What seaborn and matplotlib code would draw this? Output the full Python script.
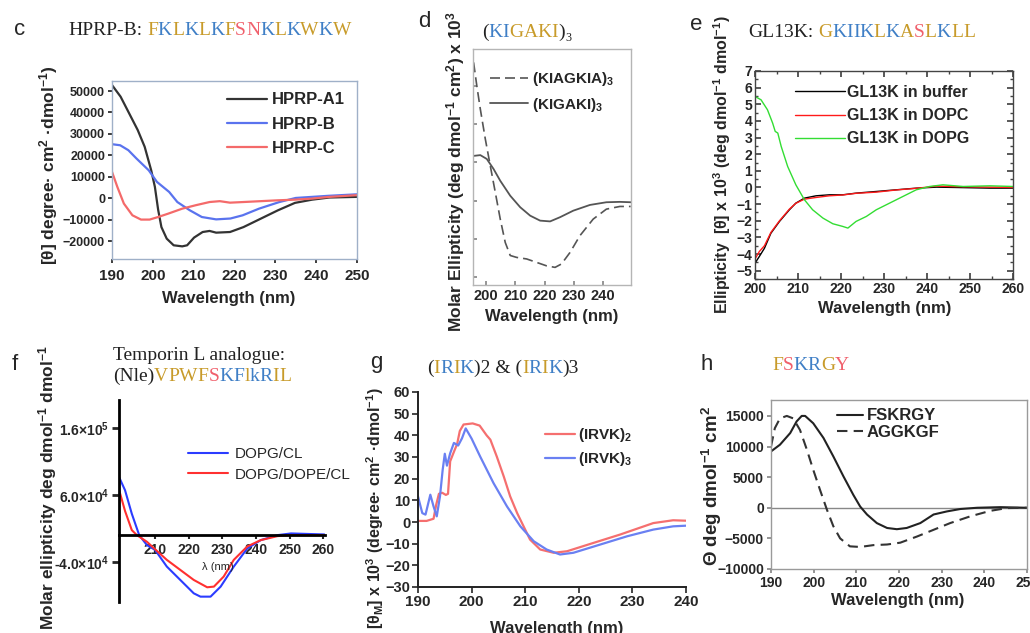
import matplotlib
matplotlib.use('Agg')
import matplotlib.pyplot as plt
from matplotlib.ticker import MultipleLocator
import seaborn as sns

W, H = 1030, 633

# colours used for residues in the sequence titles
GOLD, BLUE, PINK, INK = '#c89b2a', '#3f7fc6', '#f0606c', '#222222'
RES_COL = {'g': GOLD, 'b': BLUE, 'p': PINK, 'k': INK}

# ---- panel c: HPRP peptides
c_a1_wl = [190, 192.1, 194.2, 196.3, 198, 199.6, 200.5, 201.3, 202.1, 203.4, 205.1, 207.2, 208.4,
           210.1, 212.2, 213.9, 215.5, 218.9, 222.2, 226.4, 230.6, 234.8, 239, 243.2, 250]
c_a1 = [52800, 47400, 39600, 31800, 24000, 13000, 5300, -5400, -13500, -18900, -22000, -22500, -22000,
        -18400, -15800, -15300, -16100, -15800, -13500, -9600, -5700, -2200, -700, 300, 600]
c_b_wl = [190, 192, 194, 196, 199, 201, 204, 206, 209, 212, 215.5, 219, 222, 226, 231, 235, 239, 243, 250]
c_b = [25200, 24700, 22400, 18500, 13000, 7600, 2900, -1800, -5600, -8800, -9900, -9500, -8000, -4900,
       -1800, 100, 600, 1100, 1800]
c_c_wl = [190, 191.3, 192.9, 195, 197.1, 199.2, 201.3, 203.8, 207.2, 210.5, 213.9, 216.4, 218.9, 222.2,
          226.4, 230.6, 234.8, 239, 243.2, 250]
c_c = [12300, 5300, -2500, -8000, -10000, -10000, -8800, -7200, -4900, -3300, -1800, -1400, -2100, -1800,
       -1400, -1000, -700, -200, 600, 1400]
c_seq, c_code = 'FKLKLKFSNKLKWKW', 'gbgbgbgppbgbgbg'

# ---- panel d: (KIGAKI)3 vs (KIAGKIA)3, x 10^3
d_kiagkia_wl = [195.8, 196.9, 198.1, 199.8, 201.5, 203.2, 204.9, 206.6, 208.3, 210.5, 213.9, 217.3, 220.7,
                223.6, 225.8, 228.7, 232.1, 236.6, 241.1, 245.7, 249.4]
d_kiagkia = [36.1, 30, 23.9, 16.1, 9.1, 2.2, -4.8, -10.9, -14.3, -14.8, -15.2, -16.1, -17, -17.4, -16.5,
             -13.5, -9.1, -4.8, -2.2, -1.5, -1.5]
d_kigaki_wl = [195.8, 198.1, 200.3, 202.6, 204.9, 208.3, 211.7, 215.1, 218.5, 221.9, 225.3, 229.8, 235.5,
               241.1, 245.7, 249.4]
d_kigaki = [11.7, 11.9, 10.9, 8.3, 5.2, 1.3, -1.7, -3.9, -5.2, -5.4, -4.3, -2.6, -1.1, -0.4, -0.3, -0.4]

# ---- panel e: GL13K
e_wl = [200, 201, 202.2, 203.7, 205.7, 208, 209.5, 211.5, 214.2, 217.3, 220.4, 223.5, 228.2, 232.8, 237.5,
        242.2, 246.8, 254.6, 260]
e_buffer = [-4.55, -4.15, -3.65, -2.75, -2.04, -1.34, -0.94, -0.64, -0.5, -0.44, -0.44, -0.34, -0.24, -0.14,
            -0.04, 0.02, 0, -0.04, -0.04]
e_dopc = [-4.3, -3.85, -3.5, -2.7, -2.0, -1.3, -0.95, -0.7, -0.6, -0.5, -0.45, -0.35, -0.28, -0.15, -0.05,
          0.08, 0.05, 0.02, 0.0]
e_dopg_wl = [200, 201.4, 202.9, 204.1, 204.7, 205.3, 206.1, 207.6, 209.5, 211.5, 213.4, 215.8, 218.1, 220.4,
             221.6, 223.5, 225.9, 228.2, 231.3, 234.4, 237.5, 240.6, 243.7, 248.4, 254.6, 260]
e_dopg = [5.47, 5.27, 4.67, 3.87, 3.37, 3.27, 2.46, 1.26, 0.16, -0.74, -1.34, -1.84, -2.18, -2.34, -2.44,
          -2.04, -1.74, -1.34, -0.94, -0.54, -0.14, 0.06, 0.16, 0.06, 0.1, 0.06]
e_seq, e_code = 'GKIIKLKASLKLL', 'gbbbbgbgpgbgg'

# ---- panel f: Temporin L analogue
f_cl_wl = [199.3, 201.1, 203.1, 205.3, 207.6, 210, 213.5, 217.5, 221.5, 223.5, 226.5, 229.5, 233.4, 237.4,
           241.4, 246.4, 250.4, 260.3]
f_cl = [87000, 67000, 32000, 0, -15000, -22000, -47000, -67000, -87000, -92000, -92000, -77000, -47000,
        -20000, -7500, 0, 2500, 1000]
f_dope_wl = [199.3, 201.1, 203.1, 204.6, 207.6, 210, 213.5, 217.5, 221.5, 225.5, 227.5, 230.4, 233.4, 237.4,
             241.4, 246.4, 250.4, 260.3]
f_dope = [68000, 36000, 7500, 0, -10000, -21000, -37000, -52000, -67000, -78000, -77000, -62000, -37000,
          -17000, -7500, -1500, 0, 0]
f_yticks = [-4.0e4, 6.0e4, 1.6e5]
f_ylabels = ['-4.0×10$^4$', '6.0×10$^4$', '1.6×10$^5$']
f_seq, f_code = 'VPWFSKFlkRIL', 'ggggpbbgbbgg'

# ---- panel g: (IRVK)n
g_irvk2_wl = [190, 191.6, 192.9, 193.4, 193.9, 194.5, 195.2, 195.6, 196, 196.8, 197.3, 197.8, 198.5, 200.2,
              201.5, 202.8, 203.5, 204.7, 206, 207.2, 208.5, 209.7, 210.9, 212.8, 215.3, 217.8, 222.8,
              227.7, 233.9, 237.6, 240]
g_irvk2 = [0.5, 0.5, 1.5, 8, 13, 13.5, 12.5, 13, 28, 33, 36, 42, 45, 45.5, 44.5, 40, 38, 30.2, 21, 11.8, 4.1,
           -2, -8.1, -12.7, -14.2, -13.5, -9.6, -5.8, -0.5, 0.8, 0.6]
g_irvk3_wl = [190, 190.8, 191.4, 192.3, 192.9, 193.5, 194.1, 194.6, 195.0, 195.4, 196.0, 196.7, 197.5, 198.2,
              198.9, 200.0, 201.6, 204.1, 206.6, 209.1, 211.6, 214, 216.5, 219, 224, 229, 233.9, 237.6, 240]
g_irvk3 = [11.8, 4.1, 3.4, 12.6, 7.2, 2.6, 11.8, 24, 31.5, 26, 31.7, 36.5, 35.3, 38.6, 43.2, 38.5, 30.2,
           17.9, 7.2, -2, -8.9, -12.7, -15, -14.2, -10.4, -6.6, -3.5, -2, -1.7]

# ---- panel h: FSKRGY vs AGGKGF
h_fsk_wl = [190, 192.1, 194.5, 196, 197.2, 198, 199.9, 202.3, 204.6, 207, 209.3, 210.9, 212.5, 214.8, 217.2,
            219.5, 221.8, 225, 228.1, 231.2, 234.4, 238.3, 243.8, 250]
h_fsk = [9200, 10300, 12200, 14100, 15000, 15000, 13800, 11400, 8400, 5100, 2100, 200, -1100, -2500, -3300,
         -3500, -3300, -2500, -1100, -600, -200, 0, 100, 0]
h_agg_wl = [190, 190.9, 192.1, 193.7, 195.2, 196.8, 198.4, 199.9, 201.5, 203.1, 204.6, 206.2, 208.5, 210.9,
            214, 217.2, 220.3, 224.2, 228.1, 232, 236.7, 241.4, 245.3, 250]
h_agg = [10000, 13000, 14600, 15000, 14600, 12700, 9500, 6200, 2900, -300, -3000, -5000, -6300, -6400,
         -6100, -6000, -5700, -4700, -3600, -2500, -1400, -500, -50, 0]
h_seq, h_code = 'FSKRGY', 'gpbbgp'


sns.set_theme(style='ticks')
plt.rcParams['font.family'] = ['Liberation Sans', 'DejaVu Sans']
plt.rcParams['mathtext.default'] = 'regular'

fig = plt.figure(figsize=(W / 100, H / 100), dpi=100)
fig.canvas.draw()
renderer = fig.canvas.get_renderer()


def px_box(l, t, r, b):
    return [l / W, 1 - b / H, (r - l) / W, (b - t) / H]


def ftext(x, y, s, **kw):
    return fig.text(x / W, 1 - y / H, s, **kw)


def bold_ticks(ax, size):
    ax.tick_params(labelsize=size)
    for lab in ax.get_xticklabels() + ax.get_yticklabels():
        lab.set_fontweight('bold')


def seq_title(x, y, parts, size=14):
    """Write a serif title piece by piece so each residue keeps its colour."""
    for txt, col in parts:
        if txt == ' ':
            x += size * 100 / 72 * 0.25
            continue
        sub = txt.startswith('_')
        s = txt[1:] if sub else txt
        t = ftext(x, y + (4 if sub else 0), s, color=col, fontsize=size * 0.62 if sub else size,
                  family='Liberation Serif', va='baseline')
        x += t.get_window_extent(renderer).width


def residues(seq, code):
    return [(a, RES_COL[c]) for a, c in zip(seq, code)]


def put_legend(ax, x, y_first, size, row, hlen, pad, weight='bold'):
    fpx = size * 100 / 72
    ax.legend(loc='upper left', bbox_to_anchor=(x / W, 1 - (y_first - 0.45 * fpx) / H),
              bbox_transform=fig.transFigure, frameon=False,
              prop={'size': size, 'weight': weight},
              handlelength=hlen / fpx, handletextpad=pad / fpx,
              labelspacing=(row - 0.89 * fpx) / fpx, borderpad=0, borderaxespad=0)


def box_color(ax, col, lw=1.0):
    for sp in ax.spines.values():
        sp.set_visible(True)
        sp.set_color(col)
        sp.set_linewidth(lw)


# ---------------- panel c
ax = fig.add_axes(px_box(112, 81, 357, 259))
sns.lineplot(x=c_a1_wl, y=c_a1, ax=ax, color='#333333', linewidth=1.6, label='HPRP-A1')
sns.lineplot(x=c_b_wl, y=c_b, ax=ax, color='#5a73ee', linewidth=1.6, label='HPRP-B')
sns.lineplot(x=c_c_wl, y=c_c, ax=ax, color='#f46a6a', linewidth=1.6, label='HPRP-C')
ax.set_xlim(190, 250)
ax.set_ylim(-28400, 54700)
ax.xaxis.set_major_locator(MultipleLocator(10))
ax.yaxis.set_major_locator(MultipleLocator(10000))
ax.tick_params(axis='y', length=3, pad=2)
ax.tick_params(axis='x', length=3, pad=4)
box_color(ax, '#9fb0c8')
ax.tick_params(axis='x', labelsize=11)
ax.tick_params(axis='y', labelsize=9)
for lab in ax.get_xticklabels() + ax.get_yticklabels():
    lab.set_fontweight('bold')
put_legend(ax, 227, 100, 12, 24, 40, 5)
ftext(49, 165, '[θ] degree· cm$^2$ ·dmol$^{-1}$)', rotation=90, ha='center', va='center',
      fontsize=12.5, fontweight='bold')
ftext(229, 298, 'Wavelength (nm)', ha='center', va='center', fontsize=12, fontweight='bold')
ftext(14, 35, 'c', fontsize=16, va='baseline')
seq_title(68, 35, [('HPRP-B:', INK), (' ', None)] + residues(c_seq, c_code))

# ---------------- panel d
ax = fig.add_axes(px_box(473, 49, 631, 285))
sns.lineplot(x=d_kiagkia_wl, y=d_kiagkia, ax=ax, color='#555555', linewidth=1.2,
             linestyle=(0, (6, 3)), label='(KIAGKIA)$_3$')
sns.lineplot(x=d_kigaki_wl, y=d_kigaki, ax=ax, color='#555555', linewidth=1.3, label='(KIGAKI)$_3$')
ax.set_xlim(195.6, 249.5)
ax.set_ylim(-22, 39.6)
ax.set_xticks([200, 210, 220, 230, 240])
ax.set_yticks([-20, -10, 0, 10, 20, 30])
ax.set_yticklabels([])
ax.tick_params(direction='in', length=3, color='#888888')
ax.tick_params(axis='x', pad=3)
box_color(ax, '#b5b5b5')
bold_ticks(ax, 10.5)
put_legend(ax, 490, 77, 11, 21, 38, 4)
ftext(456, 172, 'Molar Ellipticity (deg dmol$^{-1}$ cm$^2$) x 10$^3$', rotation=90, ha='center',
      va='center', fontsize=12.5, fontweight='bold')
ftext(552, 316, 'Wavelength (nm)', ha='center', va='center', fontsize=12, fontweight='bold')
ftext(418, 27, 'd', fontsize=16, va='baseline')
seq_title(482, 37, [('(', INK)] + residues('KIGAKI', 'bbgggg') + [(')', INK), ('_3', INK)])

# ---------------- panel e
ax = fig.add_axes(px_box(755, 71, 1013, 279))
sns.lineplot(x=e_wl, y=e_buffer, ax=ax, color='black', linewidth=1.0, label='GL13K in buffer')
sns.lineplot(x=e_wl, y=e_dopc, ax=ax, color='#ff1a1a', linewidth=1.0, label='GL13K in DOPC')
sns.lineplot(x=e_dopg_wl, y=e_dopg, ax=ax, color='#33dd33', linewidth=1.0, label='GL13K in DOPG')
ax.set_xlim(200, 260)
ax.set_ylim(-5.5, 7)
ax.xaxis.set_major_locator(MultipleLocator(10))
ax.xaxis.set_minor_locator(MultipleLocator(5))
ax.yaxis.set_major_locator(MultipleLocator(1))
ax.yaxis.set_minor_locator(MultipleLocator(0.5))
ax.tick_params(which='both', direction='in', top=True, right=True, color='#444444')
ax.tick_params(which='major', length=4, pad=2)
ax.tick_params(which='minor', length=2)
box_color(ax, '#444444')
bold_ticks(ax, 10)
put_legend(ax, 795, 92, 11.5, 22.5, 50, 2)
ftext(722, 165, 'Ellipticity  [θ] x 10$^3$ (deg dmol$^{-1}$ dmol$^{-1}$)', rotation=90, ha='center',
      va='center', fontsize=11.5, fontweight='bold')
ftext(885, 309, 'Wavelength (nm)', ha='center', va='center', fontsize=12, fontweight='bold')
ftext(690, 30, 'e', fontsize=16, va='baseline')
seq_title(748, 37, [('GL13K:', INK), (' ', None)] + residues(e_seq, e_code))

# ---------------- panel f
ax = fig.add_axes(px_box(119, 400, 325, 602))
sns.lineplot(x=f_cl_wl, y=f_cl, ax=ax, color='#2b3cff', linewidth=1.5, label='DOPG/CL')
sns.lineplot(x=f_dope_wl, y=f_dope, ax=ax, color='#ff3030', linewidth=1.5, label='DOPG/DOPE/CL')
ax.set_xlim(199.3, 260.5)
ax.set_ylim(-100000, 202000)
ax.spines['top'].set_visible(False)
ax.spines['right'].set_visible(False)
ax.spines['left'].set_linewidth(2)
ax.spines['bottom'].set_linewidth(2)
ax.spines['left'].set_color('black')
ax.spines['bottom'].set_color('black')
ax.spines['bottom'].set_position(('data', 0))
ax.set_xticks([210, 220, 230, 240, 250, 260])
ax.set_yticks(f_yticks)
ax.set_yticklabels(f_ylabels)
ax.tick_params(axis='y', length=5, width=2, pad=2)
ax.tick_params(axis='x', length=3, width=1.5, pad=3)
bold_ticks(ax, 10)
put_legend(ax, 188, 454, 11, 20, 40, 7, weight='normal')
ftext(48, 488, 'Molar ellipticity deg dmol$^{-1}$ dmol$^{-1}$', rotation=90, ha='center', va='center',
      fontsize=12.5, fontweight='bold')
ftext(218, 567, 'λ (nm)', ha='center', va='center', fontsize=8)
ftext(12, 370, 'f', fontsize=16, va='baseline')
seq_title(113, 360, [('Temporin L analogue:', INK)])
seq_title(113, 381, [('(Nle)', INK)] + residues(f_seq, f_code))

# ---------------- panel g
ax = fig.add_axes(px_box(418, 392, 686, 587))
sns.lineplot(x=g_irvk2_wl, y=g_irvk2, ax=ax, color='#f56f6f', linewidth=1.6, label='(IRVK)$_2$')
sns.lineplot(x=g_irvk3_wl, y=g_irvk3, ax=ax, color='#6a80f2', linewidth=1.6, label='(IRVK)$_3$')
ax.set_xlim(190, 240)
ax.set_ylim(-30, 60)
ax.xaxis.set_major_locator(MultipleLocator(10))
ax.yaxis.set_major_locator(MultipleLocator(10))
ax.spines['top'].set_visible(False)
ax.spines['right'].set_visible(False)
for k in ('left', 'bottom'):
    ax.spines[k].set_color('#222222')
    ax.spines[k].set_linewidth(1.4)
ax.tick_params(length=4, width=1.2, pad=1.5)
bold_ticks(ax, 11)
ax.tick_params(axis='y', labelsize=10.5)
put_legend(ax, 545, 433, 11, 19.5, 30, 3)
ftext(375, 508, '[θ$_M$] x 10$^3$ (degree· cm$^2$ ·dmol$^{-1}$)', rotation=90, ha='center', va='center',
      fontsize=11.5, fontweight='bold')
ftext(557, 629, 'Wavelength (nm)', ha='center', va='center', fontsize=12, fontweight='bold')
ftext(370, 368, 'g', fontsize=16, va='baseline')
seq_title(427, 373, [('(', INK)] + residues('IRIK', 'gbgb') + [(')2 & (', INK)]
          + residues('IRIK', 'gbgb') + [(')3', INK)])

# ---------------- panel h
ax = fig.add_axes(px_box(771, 400, 1027, 569))
ax.axhline(0, color='#888888', linewidth=1)
sns.lineplot(x=h_fsk_wl, y=h_fsk, ax=ax, color='#222222', linewidth=1.5, label='FSKRGY')
sns.lineplot(x=h_agg_wl, y=h_agg, ax=ax, color='#333333', linewidth=1.5,
             linestyle=(0, (5, 3)), label='AGGKGF')
ax.set_xlim(190, 250)
ax.set_ylim(-10000, 17600)
ax.xaxis.set_major_locator(MultipleLocator(10))
ax.yaxis.set_major_locator(MultipleLocator(5000))
box_color(ax, '#9a9a9a')
ax.tick_params(length=3, color='#888888', pad=2)
bold_ticks(ax, 10)
put_legend(ax, 837, 416, 12, 16, 26, 4)
ftext(712, 486, 'Θ deg dmol$^{-1}$ cm$^2$', rotation=90, ha='center', va='center', fontsize=13.5,
      fontweight='bold')
ftext(898, 600, 'Wavelength (nm)', ha='center', va='center', fontsize=12, fontweight='bold')
ftext(700, 370, 'h', fontsize=16, va='baseline')
seq_title(772, 370, residues(h_seq, h_code))

fig.savefig('out.png', dpi=100)
